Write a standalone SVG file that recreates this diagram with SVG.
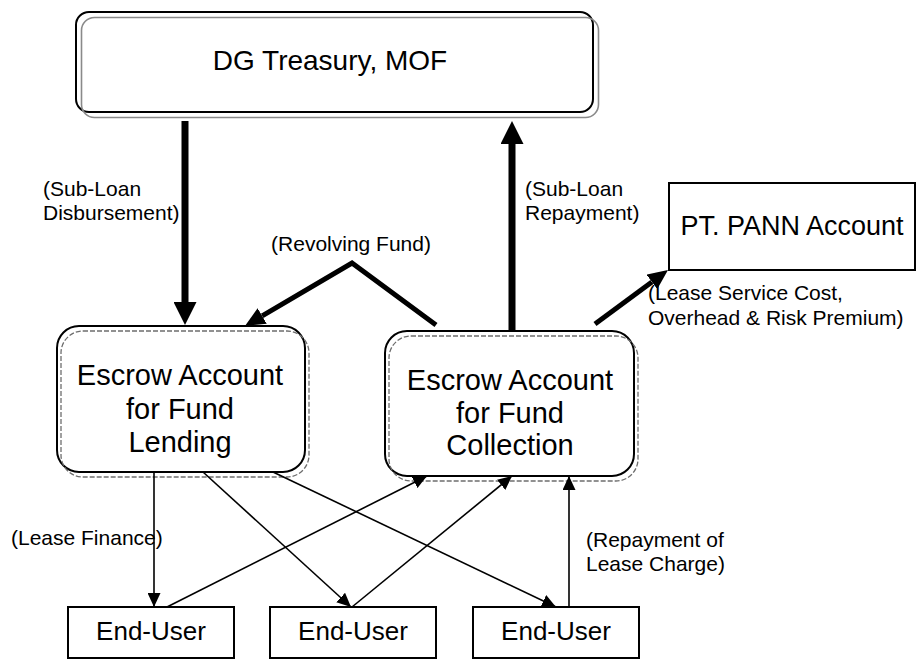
<svg xmlns="http://www.w3.org/2000/svg" width="918" height="662" viewBox="0 0 918 662">
  <style>
    text { font-family: "Liberation Sans", Arial, sans-serif; fill: #000; }
    .node { font-size: 28px; text-anchor: middle; }
    .escrow { font-size: 29px; text-anchor: middle; }
    .user { font-size: 26px; text-anchor: middle; }
    .lbl { font-size: 21px; }
    .frame { fill: #fff; stroke: #000; stroke-width: 2; }
    .shade { fill: none; stroke: #8a8a8a; stroke-width: 1.6; }
    .dash { fill: none; stroke: #6e6e6e; stroke-width: 1.3; stroke-dasharray: 5 2; }
    .thin { fill: none; stroke: #000; stroke-width: 1.6; }
    .heavy { fill: none; stroke: #000; stroke-width: 7; }
    .mid { fill: none; stroke: #000; stroke-width: 5; stroke-linejoin: miter; }
  </style>
  <defs>
    <marker id="ahThin" markerUnits="userSpaceOnUse" markerWidth="14" markerHeight="13" refX="14" refY="6.5" orient="auto">
      <path d="M0,0 L14,6.5 L0,13 z" fill="#000"/>
    </marker>
    <marker id="ahHeavy" markerUnits="userSpaceOnUse" markerWidth="23" markerHeight="23" refX="0" refY="11.5" orient="auto">
      <path d="M0,0 L23,11.5 L0,23 z" fill="#000"/>
    </marker>
    <marker id="ahMid" markerUnits="userSpaceOnUse" markerWidth="20" markerHeight="18" refX="0" refY="9" orient="auto">
      <path d="M0,0 L20,9 L0,18 z" fill="#000"/>
    </marker>
  </defs>

  <rect width="918" height="662" fill="#fff"/>

  <!-- DG Treasury -->
  <g id="dg-treasury">
    <rect class="frame" x="76" y="12" width="517" height="100" rx="13"/>
    <rect class="shade" x="81.5" y="17.5" width="517" height="100" rx="13"/>
    <text class="node" x="330" y="70">DG Treasury, MOF</text>
  </g>

  <!-- PT. PANN Account -->
  <g id="pann-account">
    <rect class="frame" x="669" y="183" width="246" height="87"/>
    <text class="node" x="792" y="235" style="font-size:27px">PT. PANN Account</text>
  </g>

  <!-- Escrow account for lending -->
  <g id="escrow-lending">
    <rect class="frame" x="57" y="326" width="248" height="146" rx="22"/>
    <rect class="dash" x="61" y="331" width="248" height="146" rx="22"/>
    <text class="escrow" x="180" y="385">Escrow Account</text>
    <text class="escrow" x="180" y="418.5">for Fund</text>
    <text class="escrow" x="180" y="452">Lending</text>
  </g>

  <!-- Escrow account for collection -->
  <g id="escrow-collection">
    <rect class="frame" x="385" y="331" width="249" height="145" rx="22"/>
    <rect class="dash" x="389" y="336" width="249" height="145" rx="22"/>
    <text class="escrow" x="510" y="390">Escrow Account</text>
    <text class="escrow" x="510" y="422.5">for Fund</text>
    <text class="escrow" x="510" y="455">Collection</text>
  </g>

  <!-- End users -->
  <g id="end-user-1">
    <rect class="frame" x="68" y="607" width="166" height="51"/>
    <text class="user" x="151" y="640">End-User</text>
  </g>
  <g id="end-user-2">
    <rect class="frame" x="270" y="607" width="166" height="51"/>
    <text class="user" x="353" y="640">End-User</text>
  </g>
  <g id="end-user-3">
    <rect class="frame" x="473" y="607" width="166" height="51"/>
    <text class="user" x="556" y="640">End-User</text>
  </g>

  <!-- Connectors -->
  <g id="connectors">
    <line class="heavy" x1="185" y1="121" x2="185" y2="302" marker-end="url(#ahHeavy)"/>
    <line class="heavy" x1="512" y1="330" x2="512" y2="144" marker-end="url(#ahHeavy)"/>
    <polyline class="mid" points="436,325 352,263 262.2,315.9" marker-end="url(#ahMid)"/>
    <line class="mid" x1="595" y1="324" x2="651.9" y2="281.9" marker-end="url(#ahMid)"/>

    <line class="thin" x1="154" y1="472" x2="154" y2="607" marker-end="url(#ahThin)"/>
    <line class="thin" x1="203" y1="472" x2="351" y2="607" marker-end="url(#ahThin)"/>
    <line class="thin" x1="273" y1="472" x2="556" y2="607" marker-end="url(#ahThin)"/>
    <line class="thin" x1="167" y1="607" x2="427" y2="476" marker-end="url(#ahThin)"/>
    <line class="thin" x1="352" y1="607" x2="512" y2="476" marker-end="url(#ahThin)"/>
    <line class="thin" x1="569" y1="607" x2="569" y2="476" marker-end="url(#ahThin)"/>
  </g>

  <!-- Flow labels -->
  <g id="labels">
    <text class="lbl" x="43" y="196">(Sub-Loan</text>
    <text class="lbl" x="43" y="220">Disbursement)</text>
    <text class="lbl" x="525" y="196">(Sub-Loan</text>
    <text class="lbl" x="525" y="220">Repayment)</text>
    <text class="lbl" x="351" y="251" text-anchor="middle">(Revolving Fund)</text>
    <text class="lbl" x="648" y="300">(Lease Service Cost,</text>
    <text class="lbl" x="648" y="325">Overhead &amp; Risk Premium)</text>
    <text class="lbl" x="11" y="545">(Lease Finance)</text>
    <text class="lbl" x="586" y="547">(Repayment of</text>
    <text class="lbl" x="586" y="571">Lease Charge)</text>
  </g>
</svg>
